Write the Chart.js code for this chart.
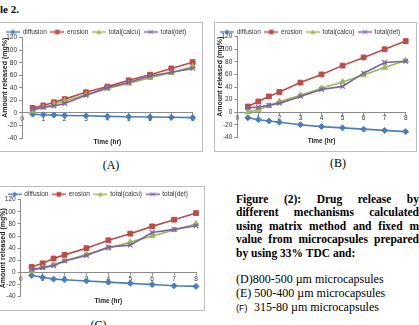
<!DOCTYPE html>
<html>
<head>
<meta charset="utf-8">
<script src="https://cdn.jsdelivr.net/npm/chart.js"></script>
<style>
html,body{margin:0;padding:0;background:#fff;width:419px;height:325px;overflow:hidden;}
body{position:relative;}
.frame{position:absolute;border:1px solid #bdbdbd;background:#fff;}
.frame canvas{display:block;}
.t{position:absolute;white-space:nowrap;font-family:'Liberation Serif','Times New Roman',serif;color:#000;}
.cap{position:absolute;left:236px;width:183px;font-family:'Liberation Serif','Times New Roman',serif;font-weight:bold;font-size:11.5px;line-height:13.5px;height:13.5px;white-space:nowrap;color:#000;}
.just{display:flex;justify-content:space-between;}
.sub{position:absolute;left:236px;font-family:'Liberation Serif','Times New Roman',serif;font-size:12px;line-height:14px;white-space:nowrap;color:#000;}
</style>
</head>
<body>

<div class="t" style="left:0px;top:3.8px;font-size:11px;line-height:11px;font-weight:bold;">le 2.</div>

<div class="frame" style="left:-1px;top:22px;width:202px;height:128px;"><canvas id="cA" width="202" height="128"></canvas></div>
<div class="frame" style="left:214px;top:22px;width:201px;height:128px;"><canvas id="cB" width="201" height="128"></canvas></div>
<div class="frame" style="left:-1px;top:186px;width:204px;height:123px;"><canvas id="cC" width="204" height="123"></canvas></div>

<div class="t" style="left:111px;top:158.5px;font-size:12px;line-height:12px;transform:translateX(-50%);">(A)</div>
<div class="t" style="left:338px;top:157.2px;font-size:12px;line-height:12px;transform:translateX(-50%);">(B)</div>
<div class="t" style="left:98.5px;top:319px;font-size:12px;line-height:12px;transform:translateX(-50%);">(C)</div>

<div class="cap just" style="top:192.7px;"><span>Figure</span><span>(2):</span><span>Drug</span><span>release</span><span>by</span></div>
<div class="cap just" style="top:206.2px;"><span>different</span><span>mechanisms</span><span>calculated</span></div>
<div class="cap just" style="top:219.7px;"><span>using</span><span>matrix</span><span>method</span><span>and</span><span>fixed</span><span>m</span></div>
<div class="cap just" style="top:233.2px;"><span>value</span><span>from</span><span>microcapsules</span><span>prepared</span></div>
<div class="cap" style="top:246.7px;">by using 33% TDC and:</div>

<div class="sub" style="top:271.6px;">(D)800-500 µm microcapsules</div>
<div class="sub" style="top:285.6px;">(E) 500-400 µm microcapsules</div>
<div class="sub" style="top:299.6px;"><span style="font-family:'Liberation Sans',Arial,sans-serif;font-size:9px;">(F)</span><span style="position:absolute;left:18px;">315-80 µm microcapsules</span></div>

<script>
// ---- data ----
const times = [0.5, 1, 1.5, 2, 3, 4, 5, 6, 7, 8];
const seriesNames = ['diffusion', 'erosion', 'total(calcu)', 'total(det)'];
const xTickLabels = ['0', '1', '2', '3', '4', '5', '6', '7', '8'];
const yTickLabels = ['-40', '-20', '0', '20', '40', '60', '80', '100', '120'];

const A_diffusion = [-2, -3, -3.5, -4, -4.5, -5.5, -6, -6.5, -7, -7.5];
const A_erosion   = [8, 12, 17, 22, 33, 42, 52, 61, 71, 81];
const A_calcu     = [3, 9, 14, 19, 29, 39, 47, 56, 64, 74];
const A_det       = [6, 9, 11, 15, 28, 40, 49, 59, 65, 71];

const B_diffusion = [-9, -12, -14, -16, -20, -23, -25, -27, -29, -31];
const B_erosion   = [9, 17, 25, 32, 47, 60, 74, 87, 100, 113];
const B_calcu     = [0, 4, 10, 17, 27, 38, 48, 59, 71, 82];
const B_det       = [7, 8, 11, 14, 25, 36, 41, 62, 79, 81];

const C_diffusion = [-5, -8, -11, -12, -14, -16, -18, -20, -22, -23];
const C_erosion   = [9, 15, 23, 29, 40, 53, 64, 76, 87, 98];
const C_calcu     = [3, 8, 13, 19, 30, 40, 50, 60, 70, 80];
const C_det       = [5, 8, 11, 19, 28, 42, 45, 66, 71, 77];

// ---- styles ----
const colors = ['#4A7EBB', '#BE4B48', '#98B954', '#7D60A0'];
const markerStyles = ['rectRot', 'rect', 'triangle', 'crossRot'];
const markerRadius = [3, 3.4, 3.3, 3.2];
const FONT = "'Liberation Sans', Arial, sans-serif";

function makeIcon(k) {
  const c = document.createElement('canvas');
  c.width = 14; c.height = 7;
  const g = c.getContext('2d');
  g.strokeStyle = colors[k]; g.fillStyle = colors[k]; g.lineWidth = 1.5;
  g.beginPath(); g.moveTo(0, 3.5); g.lineTo(14, 3.5); g.stroke();
  const cx = 7, cy = 3.5, r = 2.6;
  g.beginPath();
  if (markerStyles[k] === 'rectRot') {
    g.moveTo(cx, cy - r); g.lineTo(cx + r, cy); g.lineTo(cx, cy + r); g.lineTo(cx - r, cy); g.closePath(); g.fill();
  } else if (markerStyles[k] === 'rect') {
    g.rect(cx - 2.3, cy - 2.3, 4.6, 4.6); g.fill();
  } else if (markerStyles[k] === 'triangle') {
    g.moveTo(cx, cy - r); g.lineTo(cx + r, cy + r * 0.8); g.lineTo(cx - r, cy + r * 0.8); g.closePath(); g.fill();
  } else {
    g.lineWidth = 1;
    g.moveTo(cx - 2.2, cy - 2.2); g.lineTo(cx + 2.2, cy + 2.2);
    g.moveTo(cx + 2.2, cy - 2.2); g.lineTo(cx - 2.2, cy + 2.2); g.stroke();
  }
  return c;
}
const legendIcons = [0, 1, 2, 3].map(makeIcon);

function legendFit(h, dy) {
  return {
    id: 'legendFit',
    beforeInit(chart) {
      const lg = chart.legend;
      if (!lg) return;
      const orig = lg.fit;
      lg.fit = function () { orig.call(this); this.height = h; };
    },
    afterLayout(chart) {
      if (chart.legend) chart.legend.top += dy;
    }
  };
}

function makeChart(id, series, geo) {
  new Chart(document.getElementById(id), {
    type: 'line',
    data: {
      datasets: series.map((vals, k) => ({
        label: seriesNames[k],
        data: times.map((t, i) => ({ x: t, y: vals[i] })),
        borderColor: colors[k],
        backgroundColor: colors[k],
        pointBackgroundColor: colors[k],
        pointBorderColor: colors[k],
        pointStyle: markerStyles[k],
        pointRadius: markerRadius[k],
        pointBorderWidth: k === 3 ? 1.2 : 1,
        borderWidth: 1.6,
        tension: 0,
        order: 3 - k,
        clip: false
      }))
    },
    options: {
      responsive: false,
      animation: false,
      devicePixelRatio: 1,
      layout: { padding: { left: 0, right: geo.padR, top: 0, bottom: geo.padB } },
      plugins: {
        legend: {
          position: 'top',
          labels: {
            font: { family: FONT, size: 6.5 },
            color: '#333',
            padding: 4,
            usePointStyle: true,
            pointStyleWidth: 13,
            generateLabels(chart) {
              const items = Chart.defaults.plugins.legend.labels.generateLabels(chart);
              items.forEach(it => { it.pointStyle = legendIcons[it.datasetIndex]; it.rotation = 0; });
              return items;
            },
            sort: (a, b) => a.datasetIndex - b.datasetIndex
          }
        },
        title: {
          display: true,
          position: 'bottom',
          text: 'Time (hr)',
          fullSize: false,
          font: { family: FONT, size: 6.5, weight: 'bold' },
          color: '#222',
          padding: { top: geo.titlePadT, bottom: 0 }
        },
        tooltip: { enabled: false }
      },
      scales: {
        x: {
          type: 'linear',
          min: 0, max: 8,
          position: { y: 0 },
          ticks: {
            stepSize: 1, autoSkip: false, maxRotation: 0,
            font: { family: FONT, size: 6.5 }, color: '#333', padding: 0,
            callback: (v, i) => xTickLabels[i]
          },
          grid: { drawOnChartArea: false, drawTicks: true, tickLength: 2.5, color: '#8c8c8c' },
          border: { display: true, color: '#8c8c8c', width: 1 }
        },
        y: {
          min: -40, max: 120,
          ticks: {
            stepSize: 20,
            font: { family: FONT, size: 6.5 }, color: '#333', padding: 2,
            callback: (v, i) => yTickLabels[i]
          },
          grid: { drawOnChartArea: false, drawTicks: true, tickLength: 3, color: '#8c8c8c' },
          border: { display: true, color: '#8c8c8c', width: 1 },
          title: {
            display: true,
            text: 'Amount released (mg%)',
            font: { family: FONT, size: 7, weight: 'bold' },
            color: '#222',
            align: geo.yAlign,
            padding: { top: geo.yTitlePad, bottom: 0 }
          },
          afterFit(s) { s.width = geo.yW; }
        }
      }
    },
    plugins: [legendFit(geo.legH, geo.legDy)]
  });
}

makeChart('cA', [A_diffusion, A_erosion, A_calcu, A_det],
  { padR: 9.3, padB: 5.2, legH: 14.7, legDy: 1.75, titlePadT: 0, yW: 22, yAlign: 'end', yTitlePad: 1 });
makeChart('cB', [B_diffusion, B_erosion, B_calcu, B_det],
  { padR: 10.3, padB: 5.9, legH: 13.7, legDy: 1.75, titlePadT: 0, yW: 22.3, yAlign: 'end', yTitlePad: 1 });
makeChart('cC', [C_diffusion, C_erosion, C_calcu, C_det],
  { padR: 8, padB: 4.5, legH: 12.7, legDy: 0, titlePadT: 1, yW: 20.7, yAlign: 'center', yTitlePad: -1.5 });
</script>
</body>
</html>
